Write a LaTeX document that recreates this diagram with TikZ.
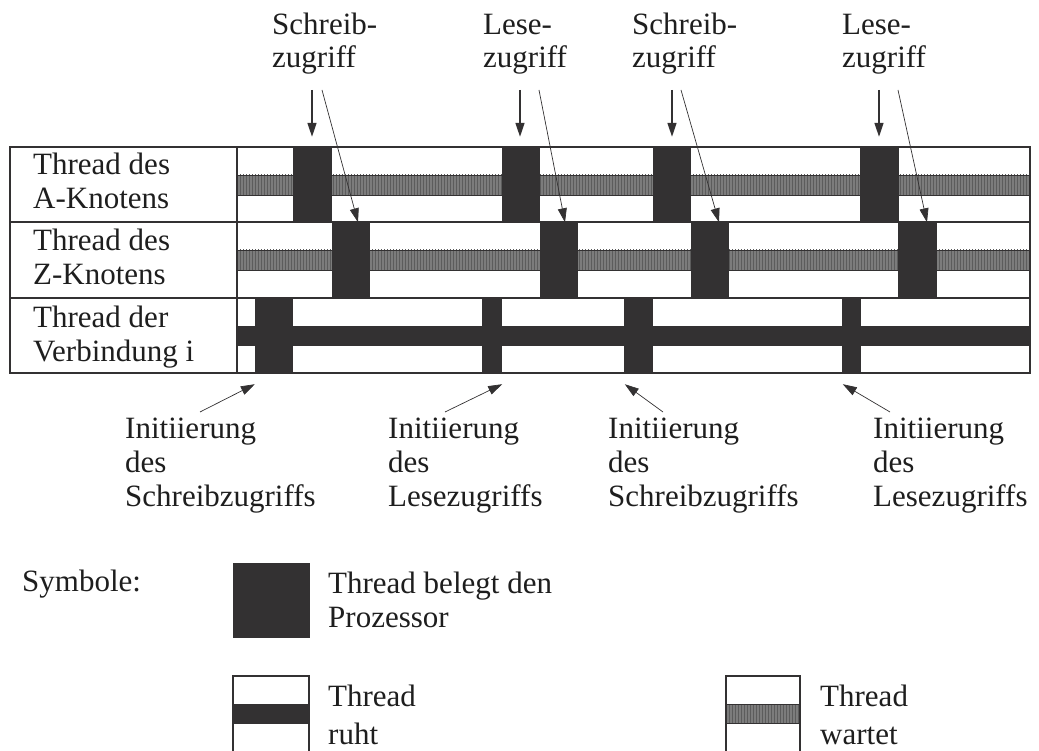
\documentclass[tikz,border=0pt]{standalone}
\usepackage{fontspec}
\setmainfont{Liberation Serif}
\usetikzlibrary{arrows.meta,patterns,calc}
\definecolor{ink}{HTML}{333132}
\definecolor{txt}{HTML}{1E1E1E}
\definecolor{waitfill}{HTML}{7C7C7C}
\definecolor{waitline}{HTML}{5C5C5C}
\begin{document}
\begin{tikzpicture}[x=1pt,y=-1pt,
  lbl/.style={font=\fontsize{31}{34}\selectfont, inner sep=0, align=left, anchor=base west, text=txt},
  frame/.style={draw=ink, line width=1.8pt},
  cpublock/.style={fill=ink, draw=none, inner sep=0, minimum width=#1, minimum height=75},
  waitbar/.style={fill=waitfill},
  waitstripes/.style={pattern=vertical lines, pattern color=waitline},
  restbar/.style={fill=ink},
  callarrow/.style={draw=ink, line width=1.4pt, -{Triangle[length=14pt,width=9pt]}},
  thinarrow/.style={draw=ink, line width=0.7pt, -{Triangle[length=14pt,width=9pt]}}
]
\useasboundingbox (0,0) rectangle (1039,751);

% waiting bars of the A and Z threads
\foreach \yt in {175,250}{
  \fill[waitbar] (237,\yt) rectangle (1030,\yt+20);
  \fill[waitstripes] (237,\yt) rectangle (1030,\yt+20);
  \draw[ink, line width=0.8pt] (237,\yt) -- (1030,\yt) (237,\yt+20) -- (1030,\yt+20);
}
% resting bar of the connection thread
\fill[restbar] (237,326) rectangle (1030,346);

% processor blocks, thread of the A node
\node[cpublock=39] (a1) at (312.5,184.5) {};
\node[cpublock=38] (a2) at (521,184.5) {};
\node[cpublock=38] (a3) at (672,184.5) {};
\node[cpublock=39] (a4) at (879.5,184.5) {};
% thread of the Z node
\node[cpublock=38] (z1) at (351,260) {};
\node[cpublock=38] (z2) at (559,260) {};
\node[cpublock=38] (z3) at (710,260) {};
\node[cpublock=39] (z4) at (917.5,260) {};
% thread of connection i
\node[cpublock=38] (v1) at (274,335.5) {};
\node[cpublock=20] (v2) at (492,335.5) {};
\node[cpublock=29] (v3) at (638.5,335.5) {};
\node[cpublock=19] (v4) at (851.5,335.5) {};

% table frame
\draw[frame] (10,147) rectangle (1030,373);
\draw[frame] (10,222) -- (1030,222) (10,298) -- (1030,298) (237,147) -- (237,373);

% row labels (anchored at the baseline of their last line)
\node[lbl] (rowA) at (33,209) {Thread des\\A-Knotens};
\node[lbl] (rowZ) at (33,285) {Thread des\\Z-Knotens};
\node[lbl] (rowV) at (33,361) {Thread der\\Verbindung i};

% access labels above the table
\node[lbl, font=\fontsize{31}{33}\selectfont] (w1) at (272,68) {Schreib-\\zugriff};
\node[lbl, font=\fontsize{31}{33}\selectfont] (r1) at (483,68) {Lese-\\zugriff};
\node[lbl, font=\fontsize{31}{33}\selectfont] (w2) at (632,68) {Schreib-\\zugriff};
\node[lbl, font=\fontsize{31}{33}\selectfont] (r2) at (842,68) {Lese-\\zugriff};

% arrow end points
\coordinate (w1v) at (312,90);  \coordinate (w1s) at (322,90);
\coordinate (r1v) at (520,90);  \coordinate (r1s) at (539,90);
\coordinate (w2v) at (672,90);  \coordinate (w2s) at (681,90);
\coordinate (r2v) at (879,90);  \coordinate (r2s) at (898,90);

\draw[callarrow] (w1v) -- ($(a1.north)+(-0.5,-10)$);
\draw[callarrow] (r1v) -- ($(a2.north)+(-1,-10)$);
\draw[callarrow] (w2v) -- ($(a3.north)+(0,-10)$);
\draw[callarrow] (r2v) -- ($(a4.north)+(-0.5,-10)$);

\draw[thinarrow] (w1s) -- ($(z1.north)+(7,0)$);
\draw[thinarrow] (r1s) -- ($(z2.north)+(6,0)$);
\draw[thinarrow] (w2s) -- ($(z3.north)+(9,0)$);
\draw[thinarrow] (r2s) -- ($(z4.north)+(9.5,0)$);

% initiation labels below the table
\node[lbl] (i1) at (125,506) {Initiierung\\des\\Schreibzugriffs};
\node[lbl] (i2) at (388,506) {Initiierung\\des\\Lesezugriffs};
\node[lbl] (i3) at (608,506) {Initiierung\\des\\Schreibzugriffs};
\node[lbl] (i4) at (873,506) {Initiierung\\des\\Lesezugriffs};

\coordinate (i1s) at (200,412);
\coordinate (i2s) at (445,412);
\coordinate (i3s) at (663,412);
\coordinate (i4s) at (890,412);
\draw[thinarrow] (i1s) -- ($(v1.south west)+(0,11)$);
\draw[thinarrow] (i2s) -- ($(v2.south east)+(0,11)$);
\draw[thinarrow] (i3s) -- ($(v3.south west)+(1,11)$);
\draw[thinarrow] (i4s) -- ($(v4.south west)+(1,11)$);

% symbol legend
\node[lbl] (sym) at (22,591) {Symbole:};
\node[fill=ink, inner sep=0, minimum width=77, minimum height=75] (kbusy) at (271.5,600.5) {};
\node[lbl] (tbusy) at (328,627) {Thread belegt den\\Prozessor};

\fill[restbar] (233,704) rectangle (309,724);
\draw[ink, line width=1.4pt] (233,751) -- (233,676) -- (309,676) -- (309,751);
\node[lbl, font=\fontsize{31}{38}\selectfont] (trest) at (328,744) {Thread\\ruht};

\fill[waitbar] (726,704) rectangle (800,723);
\fill[waitstripes] (726,704) rectangle (800,723);
\draw[ink, line width=0.8pt] (726,704) -- (800,704) (726,723) -- (800,723);
\draw[ink, line width=1.4pt] (726,751) -- (726,676) -- (800,676) -- (800,751);
\node[lbl, font=\fontsize{31}{38}\selectfont] (twait) at (820,744) {Thread\\wartet};
\end{tikzpicture}
\end{document}
